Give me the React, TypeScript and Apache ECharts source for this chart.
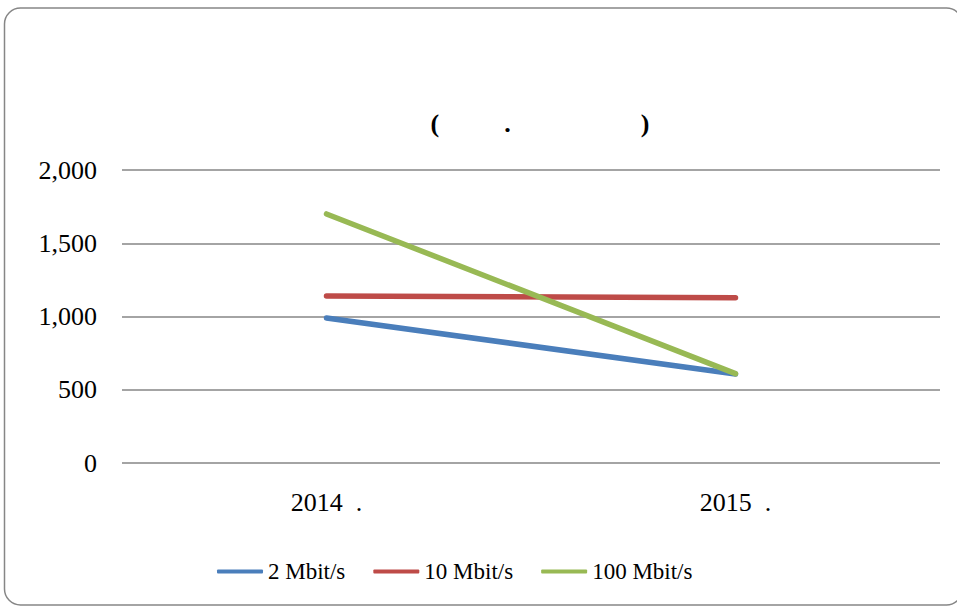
import React, { useEffect, useRef } from "react";
import * as echarts from "echarts";

const categories = ["2014  .", "2015  ."];
const seriesNames = ["2 Mbit/s", "10 Mbit/s", "100 Mbit/s"];
const series2M = [990, 607];
const series10M = [1140, 1128];
const series100M = [1700, 610];
const yTicks = [0, 500, 1000, 1500, 2000];
const colors = ["#4A7EBB", "#BE4B48", "#98B954"];
const titleText = "(          .                    )";

export default function App() {
  const ref = useRef<HTMLDivElement>(null);
  useEffect(() => {
    const chart = echarts.init(ref.current!, null, { renderer: "svg" });
    const font = "Liberation Serif";
    const data = [series2M, series10M, series100M];
    chart.setOption({
      animation: false,
      backgroundColor: "#ffffff",
      textStyle: { fontFamily: font },
      title: {
        text: titleText,
        left: 540,
        textAlign: "center",
        top: 110,
        padding: 0,
        textStyle: { fontFamily: font, fontSize: 26, fontWeight: "bold", color: "#000" },
      },
      graphic: [
        {
          type: "rect",
          shape: { x: 4.5, y: 8, width: 958, height: 597, r: 16 },
          style: { fill: "none", stroke: "#868686", lineWidth: 1.5 },
          silent: true,
          z: -1,
        },
      ],
      legend: {
        top: 560,
        left: 217,
        padding: 0,
        icon: "roundRect",
        itemWidth: 46,
        itemHeight: 4,
        itemGap: 28,
        textStyle: { fontFamily: font, fontSize: 23, color: "#000" },
        data: seriesNames,
      },
      grid: { left: 122, right: 17, top: 170, bottom: 144, containLabel: false },
      xAxis: {
        type: "category",
        data: categories,
        boundaryGap: true,
        axisLine: { show: false },
        axisTick: { show: false },
        axisLabel: { fontFamily: font, fontSize: 26, color: "#000", margin: 26 },
      },
      yAxis: {
        type: "value",
        min: yTicks[0],
        max: yTicks[yTicks.length - 1],
        interval: 500,
        axisLine: { show: false },
        axisTick: { show: false },
        splitLine: { lineStyle: { color: "#868686", width: 1.5 } },
        axisLabel: {
          fontFamily: font,
          fontSize: 26,
          color: "#000",
          margin: 25,
          formatter: (v: number) => v.toLocaleString("en-US"),
        },
      },
      series: seriesNames.map((name, i) => ({
        name,
        type: "line",
        data: data[i],
        symbol: "none",
        color: colors[i],
        lineStyle: { width: 5.5, color: colors[i], cap: "round" },
      })),
    });
    return () => chart.dispose();
  }, []);
  return (
    <div
      ref={ref}
      style={{ position: "absolute", left: 0, top: 0, width: 957, height: 607 }}
    />
  );
}
